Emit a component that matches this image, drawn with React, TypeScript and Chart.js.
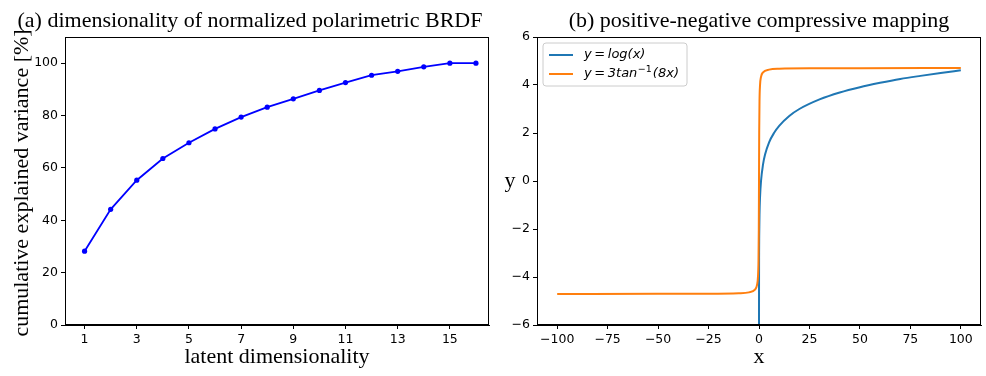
import React, { useEffect, useRef } from "react";
import { Chart, registerables } from "chart.js";

Chart.register(...registerables);

// ---------- data (a) ----------
const dimensions = [1, 2, 3, 4, 5, 6, 7, 8, 9, 10, 11, 12, 13, 14, 15, 16];
const explainedVariance = [28.2, 44.2, 55.3, 63.6, 69.6, 74.9, 79.4, 83.2, 86.4, 89.6, 92.6, 95.4, 96.9, 98.6, 100, 100];
const leftXTicks = [1, 3, 5, 7, 9, 11, 13, 15];
const leftYTicks = [0, 20, 40, 60, 80, 100];

// ---------- data (b) ----------
const logX = [0.0025, 0.01, 0.05, 0.1, 0.25, 0.5, 1, 2, 3, 5, 7.5, 10, 15, 20, 30, 40, 50, 60, 70, 80, 90, 100];
const logY = [-5.99, -4.61, -3.0, -2.3, -1.39, -0.69, 0, 0.69, 1.1, 1.61, 2.01, 2.3, 2.71, 3.0, 3.4, 3.69, 3.91, 4.09, 4.25, 4.38, 4.5, 4.61];
const atanX = [-100, -50, -25, -10, -5, -2, -1, -0.5, -0.25, -0.1, 0, 0.1, 0.25, 0.5, 1, 2, 5, 10, 25, 50, 100];
const atanY = [-4.71, -4.7, -4.7, -4.68, -4.64, -4.53, -4.34, -3.98, -3.32, -2.02, 0, 2.02, 3.32, 3.98, 4.34, 4.53, 4.64, 4.68, 4.7, 4.7, 4.71];
const rightXTicks = [-100, -75, -50, -25, 0, 25, 50, 75, 100];
const rightYTicks = [-6, -4, -2, 0, 2, 4, 6];

const titleA = "(a) dimensionality of normalized polarimetric BRDF";
const titleB = "(b) positive-negative compressive mapping";
const seriesLabels = ["y\u2009=\u2009log(x)", "y\u2009=\u20093tan", "(8x)"];

const SERIF = '"Liberation Serif", "DejaVu Serif", serif';
const SANS = '"DejaVu Sans", sans-serif';
const TICK_FONT = { family: SANS, size: 12.5 };

const fmt = (v: number) => (v < 0 ? "\u2212" + Math.abs(v) : String(v));

const frameAndText = {
  id: "frameAndText",
  afterDraw(chart: any, _args: any, opts: any) {
    const ctx = chart.ctx;
    const a = chart.chartArea;
    ctx.save();
    ctx.strokeStyle = "#000";
    ctx.lineWidth = 1;
    ctx.strokeRect(Math.round(a.left) + 0.5, Math.round(a.top) + 0.5, Math.round(a.right - a.left) - 1, Math.round(a.bottom - a.top) - 1);
    ctx.fillStyle = "#000";
    for (const t of opts.texts || []) {
      ctx.save();
      ctx.font = `${t.size}px ${SERIF}`;
      ctx.textAlign = "center";
      ctx.textBaseline = t.baseline || "alphabetic";
      ctx.translate(t.x, t.y);
      if (t.rotate) ctx.rotate(-Math.PI / 2);
      ctx.fillText(t.text, 0, 0);
      ctx.restore();
    }
    if (opts.legend) {
      const lx = a.left + 6;
      const ly = a.top + 6;
      const w = 144;
      const h = 43;
      ctx.beginPath();
      const r = 3;
      ctx.moveTo(lx + r, ly);
      ctx.arcTo(lx + w, ly, lx + w, ly + h, r);
      ctx.arcTo(lx + w, ly + h, lx, ly + h, r);
      ctx.arcTo(lx, ly + h, lx, ly, r);
      ctx.arcTo(lx, ly, lx + w, ly, r);
      ctx.closePath();
      ctx.fillStyle = "rgba(255,255,255,0.8)";
      ctx.fill();
      ctx.strokeStyle = "#cccccc";
      ctx.stroke();
      const rows = [
        { color: "#1f77b4", y: ly + 12 },
        { color: "#ff7f0e", y: ly + 31 },
      ];
      rows.forEach((row) => {
        ctx.strokeStyle = row.color;
        ctx.lineWidth = 2;
        ctx.beginPath();
        ctx.moveTo(lx + 6, row.y);
        ctx.lineTo(lx + 30, row.y);
        ctx.stroke();
      });
      ctx.fillStyle = "#000";
      ctx.textAlign = "left";
      ctx.textBaseline = "middle";
      const tx = lx + 41;
      ctx.font = `italic 13px ${SANS}`;
      ctx.fillText(seriesLabels[0], tx, rows[0].y);
      const t1 = seriesLabels[1];
      ctx.fillText(t1, tx, rows[1].y);
      const w1 = ctx.measureText(t1).width;
      ctx.font = `9.5px ${SANS}`;
      ctx.fillText("\u22121", tx + w1 + 0.5, rows[1].y - 4.5);
      const w2 = ctx.measureText("\u22121").width;
      ctx.font = `italic 13px ${SANS}`;
      ctx.fillText(seriesLabels[2], tx + w1 + w2 + 1.5, rows[1].y);
    }
    ctx.restore();
  },
};

const axisStyle = (extra: any) => ({
  type: "linear",
  border: { display: true, color: "#000", width: 1 },
  grid: { display: true, drawOnChartArea: false, drawTicks: true, tickLength: 4, tickColor: "#000", color: "#000" },
  ticks: { color: "#000", font: TICK_FONT, padding: 3, maxRotation: 0, autoSkip: false, callback: (v: any) => fmt(Number(v)) },
  ...extra,
});

function useChart(ref: React.RefObject<HTMLCanvasElement>, makeConfig: () => any) {
  useEffect(() => {
    if (!ref.current) return;
    const chart = new Chart(ref.current, makeConfig());
    return () => chart.destroy();
  }, []);
}

export default function App() {
  const leftRef = useRef<HTMLCanvasElement>(null);
  const rightRef = useRef<HTMLCanvasElement>(null);

  useChart(leftRef, () => ({
    type: "line",
    data: {
      datasets: [
        {
          data: dimensions.map((d, i) => ({ x: d, y: explainedVariance[i] })),
          borderColor: "#0000ff",
          backgroundColor: "#0000ff",
          borderWidth: 1.8,
          pointRadius: 2.6,
          pointBorderWidth: 0,
          tension: 0,
        },
      ],
    },
    options: {
      animation: false,
      responsive: false,
      devicePixelRatio: 1,
      layout: { padding: { left: 0, top: 37, right: 11, bottom: 31 } },
      plugins: {
        legend: { display: false },
        tooltip: { enabled: false },
        frameAndText: {
          texts: [
            { text: titleA, x: 250, y: 27, size: 22 },
            { text: "latent dimensionality", x: 277, y: 363, size: 22 },
            { text: "cumulative explained variance [%]", x: 22, y: 183, size: 22, rotate: true, baseline: "middle" },
          ],
        },
      },
      scales: {
        x: axisStyle({
          min: 0.25,
          max: 16.5,
          afterBuildTicks: (s: any) => { s.ticks = leftXTicks.map((v) => ({ value: v })); },
          afterFit: (s: any) => { s.height = 20; },
        }),
        y: axisStyle({
          min: 0,
          max: 110,
          afterBuildTicks: (s: any) => { s.ticks = leftYTicks.map((v) => ({ value: v })); },
          afterFit: (s: any) => { s.width = 65; },
        }),
      },
    },
    plugins: [frameAndText],
  }));

  useChart(rightRef, () => ({
    type: "line",
    data: {
      datasets: [
        {
          data: logX.map((x, i) => ({ x, y: logY[i] })),
          borderColor: "#1f77b4",
          borderWidth: 2,
          pointRadius: 0,
          cubicInterpolationMode: "monotone",
          order: 1,
        },
        {
          data: atanX.map((x, i) => ({ x, y: atanY[i] })),
          borderColor: "#ff7f0e",
          borderWidth: 2,
          pointRadius: 0,
          cubicInterpolationMode: "monotone",
          order: 0,
        },
      ],
    },
    options: {
      animation: false,
      responsive: false,
      devicePixelRatio: 1,
      layout: { padding: { left: 0, top: 37, right: 5, bottom: 31 } },
      plugins: {
        legend: { display: false },
        tooltip: { enabled: false },
        frameAndText: {
          legend: true,
          texts: [
            { text: titleB, x: 259, y: 27, size: 22 },
            { text: "x", x: 259, y: 363, size: 22 },
            { text: "y", x: 10, y: 181, size: 22, baseline: "middle" },
          ],
        },
      },
      scales: {
        x: axisStyle({
          min: -110,
          max: 110,
          afterBuildTicks: (s: any) => { s.ticks = rightXTicks.map((v) => ({ value: v })); },
          afterFit: (s: any) => { s.height = 20; },
        }),
        y: axisStyle({
          min: -6,
          max: 6,
          afterBuildTicks: (s: any) => { s.ticks = rightYTicks.map((v) => ({ value: v })); },
          afterFit: (s: any) => { s.width = 37; },
        }),
      },
    },
    plugins: [frameAndText],
  }));

  return (
    <div style={{ position: "fixed", left: 0, top: 0, width: 986, height: 376, background: "#fff" }}>
      <canvas ref={leftRef} width={500} height={376} style={{ position: "absolute", left: 0, top: 0, width: 500, height: 376 }} />
      <canvas ref={rightRef} width={486} height={376} style={{ position: "absolute", left: 500, top: 0, width: 486, height: 376 }} />
    </div>
  );
}
